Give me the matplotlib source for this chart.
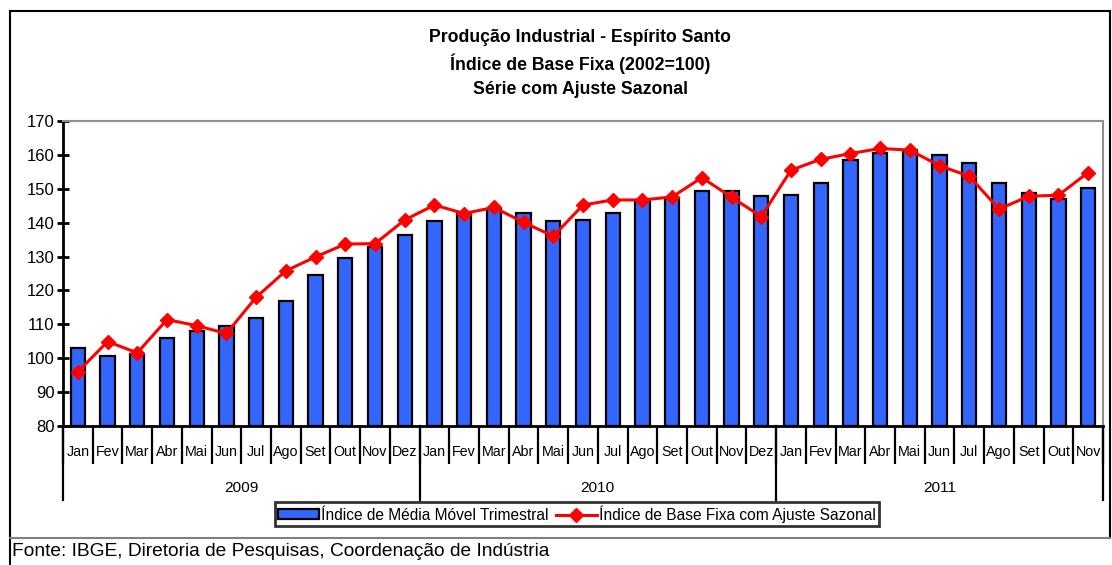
import matplotlib
matplotlib.use("Agg")
import matplotlib.pyplot as plt
from matplotlib import font_manager
from matplotlib.lines import Line2D
import matplotlib.transforms as mtransforms

plt.rcParams['font.family'] = ['Liberation Sans', 'DejaVu Sans']

# condensed face for the Excel-like squeezed labels, if present
names = {f.name for f in font_manager.fontManager.ttflist}
HAS_NARROW = 'Liberation Sans Narrow' in names
NARROW = ['Liberation Sans Narrow', 'Liberation Sans', 'DejaVu Sans'] if HAS_NARROW \
    else ['Liberation Sans', 'DejaVu Sans']
K = 1.0 if HAS_NARROW else 0.82

# Data: Jan/2009 .. Nov/2011
months = ['Jan', 'Fev', 'Mar', 'Abr', 'Mai', 'Jun', 'Jul', 'Ago', 'Set', 'Out', 'Nov', 'Dez'] * 2 + \
         ['Jan', 'Fev', 'Mar', 'Abr', 'Mai', 'Jun', 'Jul', 'Ago', 'Set', 'Out', 'Nov']
years = ['2009', '2010', '2011']
year_lengths = [12, 12, 11]

media_movel = [103.0, 100.8, 101.2, 106.0, 108.0, 109.5, 112.0, 117.0, 124.6, 129.7, 132.8, 136.4,
               140.4, 143.0, 144.0, 142.8, 140.4, 140.8, 142.8, 146.8, 147.4, 149.4, 149.4, 147.8,
               148.2, 151.8, 158.5, 160.6, 161.4, 159.9, 157.5, 151.8, 148.9, 146.9, 150.3]
base_fixa = [96.0, 104.9, 101.6, 111.4, 109.6, 107.3, 118.0, 125.8, 129.9, 133.7, 133.8, 140.8,
             145.2, 142.7, 144.5, 140.1, 136.0, 145.2, 146.7, 146.7, 147.6, 153.3, 147.5, 141.8,
             155.5, 158.7, 160.4, 161.9, 161.4, 156.8, 153.7, 144.0, 147.8, 148.1, 154.8]

W, H = 1112, 565
fig = plt.figure(figsize=(W / 100, H / 100), dpi=100)

# plot area in pixels
x0, x1, ytop, ybot = 63, 1103, 121, 426
ax = fig.add_axes([x0 / W, 1 - ybot / H, (x1 - x0) / W, (ybot - ytop) / H])

n = len(months)
xs = [i + 0.5 for i in range(n)]
ax.bar(xs, [v - 80 for v in media_movel], bottom=80, width=0.48, color='#3366FF',
       edgecolor='black', linewidth=1.6, zorder=2)
ax.plot(xs, base_fixa, color='#FF0000', lw=2.2, marker='D', markersize=7,
        markerfacecolor='#FF0000', markeredgecolor='#FF0000', zorder=3)

ax.set_xlim(0, n)
ax.set_ylim(80, 170)
ax.set_yticks(range(80, 171, 10))
ax.tick_params(axis='y', direction='inout', length=8, width=2, labelsize=12, pad=2)

# category separators as long major ticks, labels as minor ticks
ax.set_xticks(range(n + 1))
ax.set_xticklabels([])
ax.tick_params(axis='x', which='major', direction='out', length=27, width=1.6)
ax.set_xticks(xs, minor=True)
ax.set_xticklabels(months, minor=True, fontsize=12.5 * K, family=NARROW)
ax.tick_params(axis='x', which='minor', length=0, pad=14)

for s in ['left', 'bottom']:
    ax.spines[s].set_linewidth(2)
for s in ['top', 'right']:
    ax.spines[s].set_color('#909090')
    ax.spines[s].set_linewidth(1.5)

# year groups
trans = mtransforms.blended_transform_factory(ax.transData, ax.transAxes)
start = 0
bounds = [0]
for y, ln in zip(years, year_lengths):
    ax.text(start + ln / 2, -0.203, y, transform=trans, ha='center', va='center',
            fontsize=13.5 * K, family=NARROW)
    start += ln
    bounds.append(start)
for b in bounds:
    ax.add_line(Line2D([b, b], [0, -0.243], transform=trans, color='black', lw=1.6, clip_on=False))

# title
title = ['Produção Industrial - Espírito Santo', 'Índice de Base Fixa (2002=100)',
         'Série com Ajuste Sazonal']
for line, ypix in zip(title, [38, 64, 90]):
    fig.text(0.522, 1 - ypix / H, line, ha='center', va='center',
             fontsize=15.5 * K, fontweight='bold', family=NARROW)

# legend
handles = [plt.Rectangle((0, 0), 1, 1, facecolor='#3366FF', edgecolor='black', lw=1.6),
           Line2D([], [], color='#FF0000', lw=2.2, marker='D', markersize=7)]
leg = fig.legend(handles, ['Índice de Média Móvel Trimestral', 'Índice de Base Fixa com Ajuste Sazonal'],
                 loc='center', bbox_to_anchor=(577 / W, 1 - 514 / H), ncol=2, fontsize=11.2,
                 frameon=True, fancybox=False, edgecolor='black', handlelength=2.6,
                 handleheight=0.6, handletextpad=0.15, columnspacing=0.5, borderpad=0.2,
                 borderaxespad=0)
leg.get_frame().set_linewidth(2)

# outer frame
fig.add_artist(Line2D([10 / W, 1110 / W], [1 - 11 / H, 1 - 11 / H], color='black', lw=1.5))
fig.add_artist(Line2D([10 / W, 10 / W], [1 - 11 / H, 0], color='black', lw=1.5))
fig.add_artist(Line2D([1110 / W, 1110 / W], [1 - 11 / H, 1 - 538 / H], color='black', lw=1.5))
fig.add_artist(Line2D([10 / W, 1110 / W], [1 - 538 / H, 1 - 538 / H], color='#808080', lw=1.5))

fig.text(12 / W, 1 - 552 / H, 'Fonte: IBGE, Diretoria de Pesquisas, Coordenação de Indústria',
         ha='left', va='center', fontsize=13.8)

fig.savefig('out.png', dpi=100)
